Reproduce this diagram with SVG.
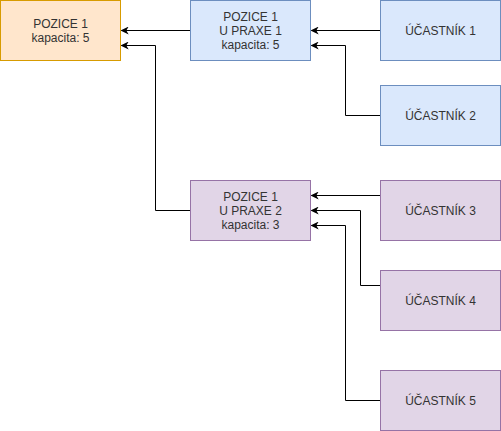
<svg xmlns="http://www.w3.org/2000/svg" width="501" height="431" viewBox="0 0 501 431">
<style>
.orange{fill:#ffe6cc;stroke:#d79b00;stroke-width:1}
.blue{fill:#dae8fc;stroke:#6c8ebf;stroke-width:1}
.purple{fill:#e1d5e7;stroke:#9673a6;stroke-width:1}
text{font-family:"Liberation Sans",Arial,sans-serif;font-size:12px;fill:#333333;text-anchor:middle}
.edge{fill:none;stroke:#000;stroke-width:1}
</style>
<defs>
<marker id="arr" viewBox="0 0 10 10" refX="9" refY="5" markerWidth="8" markerHeight="8" markerUnits="userSpaceOnUse" orient="auto">
<path d="M0,0 L10,5 L0,10 L3,5 Z" fill="#000"/>
</marker>
</defs>
<g id="connectors">
<path class="edge" d="M190.5,30.5 L121.5,30.5" marker-end="url(#arr)"/>
<path class="edge" d="M190.5,210.5 L155.5,210.5 L155.5,45.5 L121.5,45.5" marker-end="url(#arr)"/>
<path class="edge" d="M380.5,30.5 L311.5,30.5" marker-end="url(#arr)"/>
<path class="edge" d="M380.5,115.5 L345.5,115.5 L345.5,45.5 L311.5,45.5" marker-end="url(#arr)"/>
<path class="edge" d="M380.5,195.5 L311.5,195.5" marker-end="url(#arr)"/>
<path class="edge" d="M380.5,285.5 L360.5,285.5 L360.5,210.5 L311.5,210.5" marker-end="url(#arr)"/>
<path class="edge" d="M380.5,400.5 L345.5,400.5 L345.5,225.5 L311.5,225.5" marker-end="url(#arr)"/>
</g>
<g id="pozice1">
<rect class="orange" x="0.5" y="0.5" width="120" height="60"/>
<text x="60.5" y="28">POZICE 1</text>
<text x="60.5" y="42">kapacita: 5</text>
</g>
<g id="praxe1">
<rect class="blue" x="190.5" y="0.5" width="120" height="60"/>
<text x="250.5" y="21">POZICE 1</text>
<text x="250.5" y="35">U PRAXE 1</text>
<text x="250.5" y="49">kapacita: 5</text>
</g>
<g id="ucastnik1">
<rect class="blue" x="380.5" y="0.5" width="120" height="60"/>
<text x="440.5" y="35">ÚČASTNÍK 1</text>
</g>
<g id="ucastnik2">
<rect class="blue" x="380.5" y="85.5" width="120" height="60"/>
<text x="440.5" y="120">ÚČASTNÍK 2</text>
</g>
<g id="praxe2">
<rect class="purple" x="190.5" y="180.5" width="120" height="60"/>
<text x="250.5" y="201">POZICE 1</text>
<text x="250.5" y="215">U PRAXE 2</text>
<text x="250.5" y="229">kapacita: 3</text>
</g>
<g id="ucastnik3">
<rect class="purple" x="380.5" y="180.5" width="120" height="60"/>
<text x="440.5" y="215">ÚČASTNÍK 3</text>
</g>
<g id="ucastnik4">
<rect class="purple" x="380.5" y="270.5" width="120" height="60"/>
<text x="440.5" y="305">ÚČASTNÍK 4</text>
</g>
<g id="ucastnik5">
<rect class="purple" x="380.5" y="370.5" width="120" height="60"/>
<text x="440.5" y="405">ÚČASTNÍK 5</text>
</g>
</svg>
